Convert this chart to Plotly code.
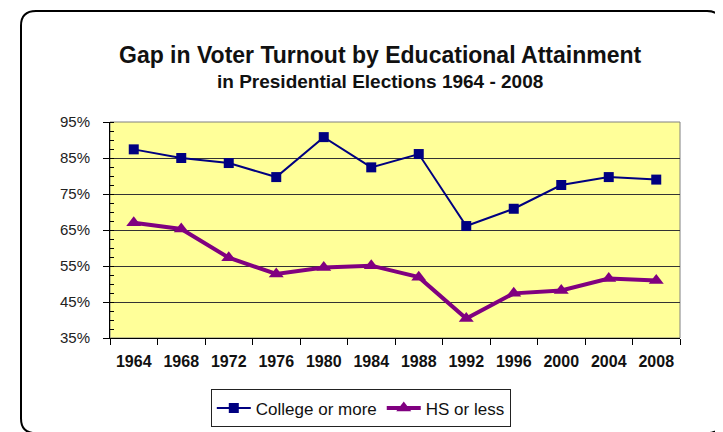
import plotly.graph_objects as go

years = ["1964", "1968", "1972", "1976", "1980", "1984", "1988", "1992", "1996", "2000", "2004", "2008"]
college = [87.4, 85.0, 83.6, 79.7, 90.8, 82.4, 86.1, 66.1, 70.9, 77.5, 79.7, 79.0]
hs_or_less = [67.0, 65.3, 57.3, 52.8, 54.6, 55.1, 51.9, 40.4, 47.4, 48.2, 51.5, 51.0]

W, H = 723, 432
L, R, T, B = 102, 672, 114, 334

def px(x):
    return (x - L) / (R - L)

def py(y):
    return (B - y) / (B - T)

fig = go.Figure()
fig.add_trace(go.Scatter(
    x=years, y=college, name="College or more", mode="lines+markers",
    line=dict(color="#000080", width=2),
    marker=dict(symbol="square", size=10, color="#000080"),
))
fig.add_trace(go.Scatter(
    x=years, y=hs_or_less, name="HS or less", mode="lines+markers",
    line=dict(color="#800080", width=4),
    marker=dict(symbol="triangle-up", size=13, color="#800080"),
))

# outer rounded frame
r = 15
x0, y0, x1, y1 = 13, 1, 714, 431
path = (f"M {px(x0+r)},{py(y0)} L {px(x1-r)},{py(y0)} "
        f"Q {px(x1)},{py(y0)} {px(x1)},{py(y0+r)} L {px(x1)},{py(y1-r)} "
        f"Q {px(x1)},{py(y1)} {px(x1-r)},{py(y1)} L {px(x0+r)},{py(y1)} "
        f"Q {px(x0)},{py(y1)} {px(x0)},{py(y1-r)} L {px(x0)},{py(y0+r)} "
        f"Q {px(x0)},{py(y0)} {px(x0+r)},{py(y0)} Z")

fig.update_layout(
    width=W, height=H,
    margin=dict(l=L, r=W - R, t=T, b=H - B),
    paper_bgcolor="white",
    plot_bgcolor="#FFFF99",
    font=dict(family="Arial, Liberation Sans, sans-serif", color="#111"),
    showlegend=True,
    legend=dict(
        orientation="h", x=0.44, xanchor="center", y=-0.238, yanchor="top",
        bordercolor="#222", borderwidth=1, bgcolor="white",
        font=dict(size=17, color="#111"), itemwidth=34,
    ),
    shapes=[
        dict(type="rect", xref="paper", yref="paper", x0=0, y0=0, x1=1, y1=1,
             line=dict(color="#808080", width=1), layer="below"),
        dict(type="path", xref="paper", yref="paper", path=path,
             line=dict(color="black", width=2), layer="above"),
        dict(type="line", xref="paper", yref="paper",
             x0=px(715), x1=px(715), y0=py(30), y1=py(420),
             line=dict(color="black", width=3)),
    ],
    annotations=[
        dict(text="<b>Gap in Voter Turnout by Educational Attainment</b>",
             xref="paper", yref="paper", x=px(372), y=py(46),
             xanchor="center", yanchor="middle", showarrow=False,
             font=dict(size=23, color="#111")),
        dict(text="<b>in Presidential Elections 1964 - 2008</b>",
             xref="paper", yref="paper", x=px(372), y=py(73),
             xanchor="center", yanchor="middle", showarrow=False,
             font=dict(size=19, color="#111")),
    ],
)

fig.update_xaxes(
    type="category", tickson="boundaries", ticks="outside", ticklen=6,
    tickcolor="black", showline=True, linecolor="black", linewidth=1,
    showgrid=False, tickfont=dict(size=16, color="#111", weight="bold"),
    ticklabelstandoff=9, range=[-0.5, 11.5],
)
fig.update_yaxes(
    range=[35, 95], dtick=10, tick0=35, ticksuffix="%", ticks="outside", ticklen=6,
    tickcolor="black", showline=True, linecolor="black", linewidth=1,
    showgrid=True, gridcolor="#333", gridwidth=1, zeroline=False,
    tickfont=dict(size=15, color="#222"), ticklabelstandoff=10,
    minor=dict(dtick=2.5, ticks="inside", ticklen=4, tickcolor="black", showgrid=False),
)

fig.write_html("out.html")
